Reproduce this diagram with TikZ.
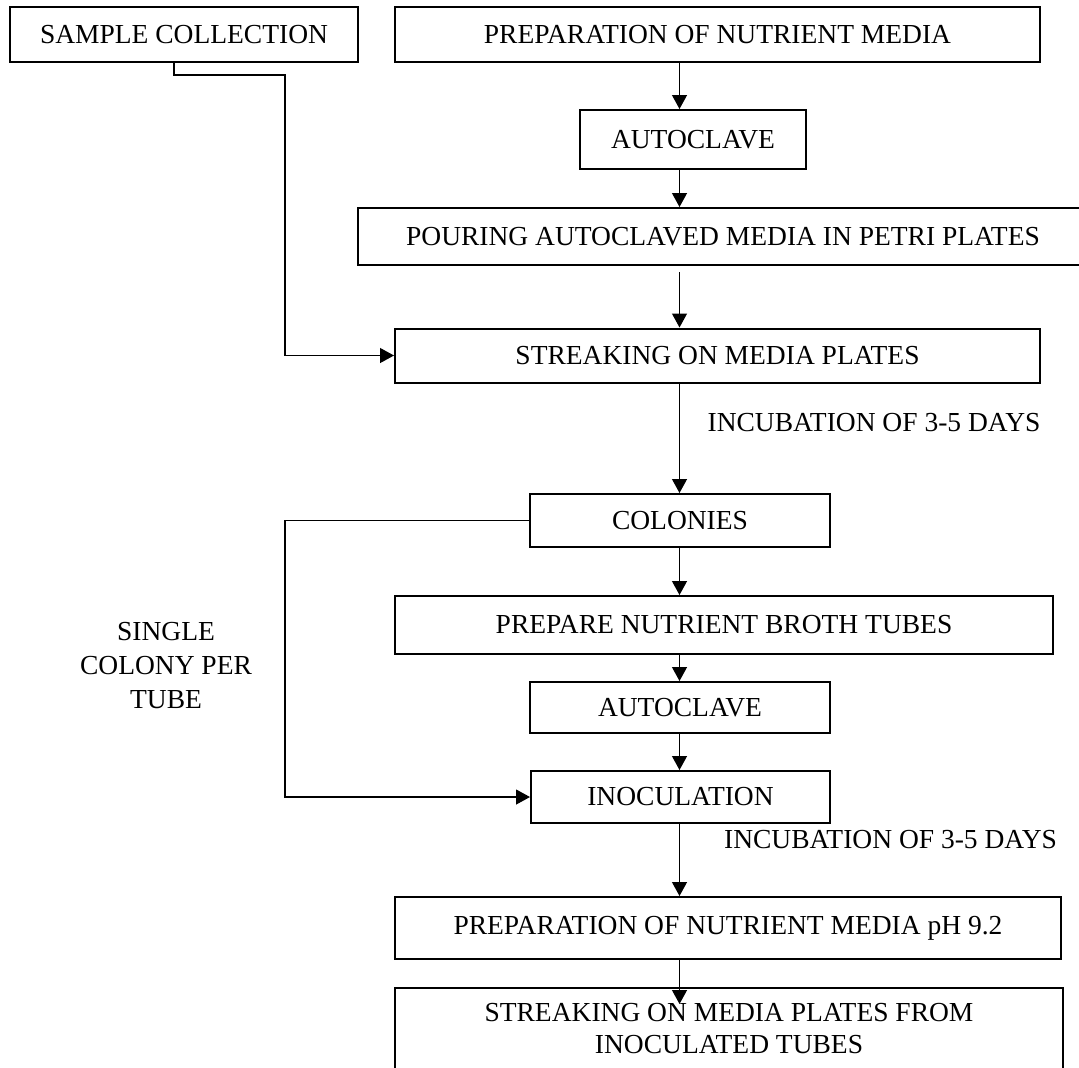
\documentclass[tikz,border=0pt]{standalone}
\usepackage{fontspec}
\setmainfont{Liberation Serif}
\usepackage{xcolor}
\usepackage{tikz}
\usetikzlibrary{arrows.meta}

\begin{document}
\begin{tikzpicture}[x=0.5pt,y=-0.5pt,
		box/.style={draw, line width=1pt, inner sep=0pt, align=center, font=\fontsize{13.75}{16}\selectfont},
		flow/.style={line width=0.6pt, -{Triangle[width=7.5pt,length=7pt]}},
		note/.style={inner sep=0pt, align=center, font=\fontsize{13.75}{17}\selectfont}]
				\useasboundingbox (0,0) rectangle (1079,1067);
	
				\node[box, minimum width=174pt, minimum height=27.5pt] (samp) at (184,34.5) {SAMPLE COLLECTION};
				\node[box, minimum width=322.5pt, minimum height=27.5pt] (prep) at (717.5,34.5) {PREPARATION OF NUTRIENT MEDIA};
				\node[box, minimum width=113pt, minimum height=29.5pt] (auto1) at (693,139.5) {AUTOCLAVE};
				\node[box, minimum width=365pt, minimum height=28.5pt] (pour) at (723,236.5) {POURING AUTOCLAVED MEDIA IN PETRI PLATES};
				\node[box, minimum width=322.5pt, minimum height=27pt] (strk) at (717.5,355.5) {STREAKING ON MEDIA PLATES};
				\node[box, minimum width=150pt, minimum height=26.5pt] (col) at (680,520.5) {COLONIES};
				\node[box, minimum width=329pt, minimum height=29pt] (broth) at (724,625) {PREPARE NUTRIENT BROTH TUBES};
				\node[box, minimum width=150pt, minimum height=25.5pt] (auto2) at (680,707.5) {AUTOCLAVE};
				\node[box, minimum width=149.5pt, minimum height=26pt] (inoc) at (680.5,797) {INOCULATION};
				\node[box, minimum width=333pt, minimum height=31pt] (ph) at (728,928) {PREPARATION OF NUTRIENT MEDIA pH 9.2};
				\node[box, minimum width=334pt, minimum height=41pt] (last) at (729,1029) {STREAKING ON MEDIA PLATES FROM\\INOCULATED TUBES};
	
				\node[note] (inc1) at (874,423) {INCUBATION OF 3-5 DAYS};
				\node[note] (inc2) at (890.5,840) {INCUBATION OF 3-5 DAYS};
				\node[note] (single) at (166,666) {SINGLE\\COLONY PER\\TUBE};
	
				\coordinate (spine) at (679.5,0);
				\coordinate (bendA) at (285,75);
				\coordinate (bendB) at (285,650);
	
				\foreach \a/\b in {prep/auto1, auto1/pour, strk/col, col/broth, broth/auto2, auto2/inoc, inoc/ph}
					\draw[flow] (\a.south -| spine) -- (\b.north -| spine);
				\draw[flow, shorten <=3pt] (pour.south -| spine) -- (strk.north -| spine);
				\draw[flow, shorten >=-8.5pt] (ph.south -| spine) -- (last.north -| spine);
	
				\draw[flow] ([xshift=-5pt]samp.south) |- (bendA) |- (strk.west);
				\draw[flow] (col.west) -| (bendB) |- (inoc.west);
			\end{tikzpicture}
\end{document}
